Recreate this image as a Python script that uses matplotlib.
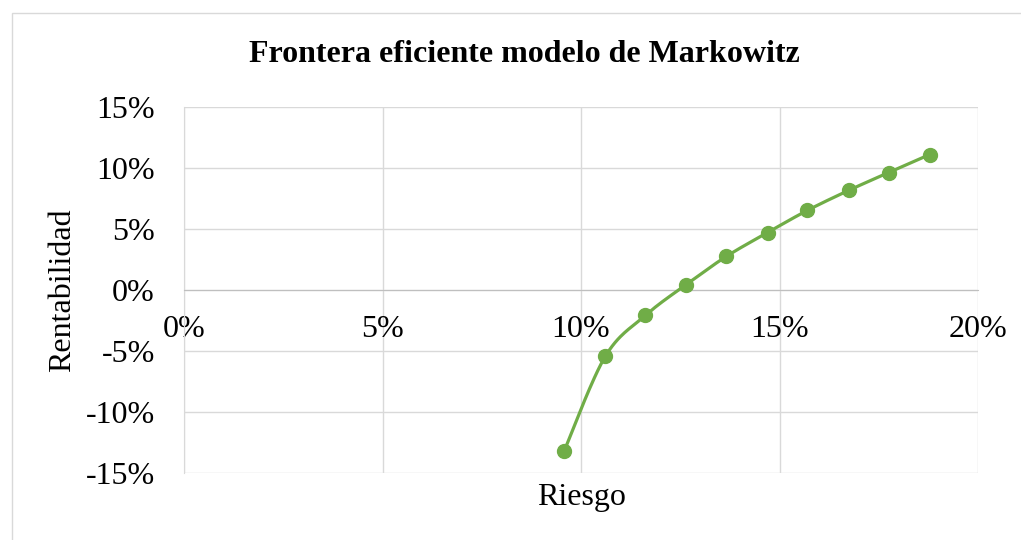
import numpy as np
import matplotlib.pyplot as plt
from matplotlib.patches import Rectangle
from matplotlib.ticker import FuncFormatter

riesgo = [9.58, 10.61, 11.62, 12.65, 13.66, 14.70, 15.70, 16.74, 17.75, 18.78]
rentabilidad = [-13.16, -5.45, -2.09, 0.45, 2.75, 4.71, 6.52, 8.16, 9.63, 11.10]
verde = '#70ad47'


def suavizar(x, y, n=30):
    # curva tipo Excel (Bezier con puntos de control Catmull-Rom)
    x = np.asarray(x, float)
    y = np.asarray(y, float)
    px = np.concatenate([[x[0]], x, [x[-1]]])
    py = np.concatenate([[y[0]], y, [y[-1]]])
    t = np.linspace(0, 1, n)
    xs, ys = [], []
    for i in range(1, len(px) - 2):
        p0 = np.array([px[i], py[i]])
        p3 = np.array([px[i + 1], py[i + 1]])
        c1 = p0 + (np.array([px[i + 1], py[i + 1]]) - np.array([px[i - 1], py[i - 1]])) / 6
        c2 = p3 - (np.array([px[i + 2], py[i + 2]]) - np.array([px[i], py[i]])) / 6
        b = ((1 - t) ** 3)[:, None] * p0 + (3 * (1 - t) ** 2 * t)[:, None] * c1 \
            + (3 * (1 - t) * t ** 2)[:, None] * c2 + (t ** 3)[:, None] * p3
        xs.extend(b[:, 0])
        ys.extend(b[:, 1])
    return xs, ys


plt.rcParams['font.family'] = ['Liberation Serif', 'DejaVu Serif']

fig = plt.figure(figsize=(10.21, 5.4), dpi=100)
ax = fig.add_axes([184 / 1021, 1 - 473 / 540, (978 - 184) / 1021, (473 - 107) / 540])

fig.patches.append(Rectangle((12 / 1021, -0.01), 1.02, 1 - 13 / 540 + 0.01,
                             transform=fig.transFigure, fill=False,
                             edgecolor='#d9d9d9', linewidth=1))

sx, sy = suavizar(riesgo, rentabilidad)
ax.plot(sx, sy, color=verde, linewidth=2.3, zorder=3)
ax.scatter(riesgo, rentabilidad, s=100, color=verde, zorder=4)

ax.set_xlim(0, 20)
ax.set_ylim(-15, 15)
ax.set_xticks([0, 5, 10, 15, 20])
ax.set_yticks([-15, -10, -5, 0, 5, 10, 15])
pct = FuncFormatter(lambda v, p: '%d%%' % v)
ax.xaxis.set_major_formatter(pct)
ax.yaxis.set_major_formatter(pct)
ax.grid(True, color='#d9d9d9', linewidth=1)
ax.set_axisbelow(True)

for s in ['top', 'right']:
    ax.spines[s].set_visible(False)
ax.spines['left'].set_color('#d9d9d9')
ax.spines['bottom'].set_position(('data', 0))
ax.spines['bottom'].set_color('#bfbfbf')
ax.tick_params(length=0, labelsize=23)
ax.tick_params(axis='y', pad=21)
ax.tick_params(axis='x', pad=18)

fig.text(63 / 1021, 1 - 290 / 540, 'Rentabilidad', rotation=90, fontsize=23,
         ha='center', va='center')
fig.text(581 / 1021, 1 - 497 / 540, 'Riesgo', fontsize=23, ha='center', va='center')
fig.text(524 / 1021, 1 - 55 / 540, 'Frontera eficiente modelo de Markowitz',
         fontsize=23, fontweight='bold', ha='center', va='center')

fig.savefig('out.png', dpi=100)
